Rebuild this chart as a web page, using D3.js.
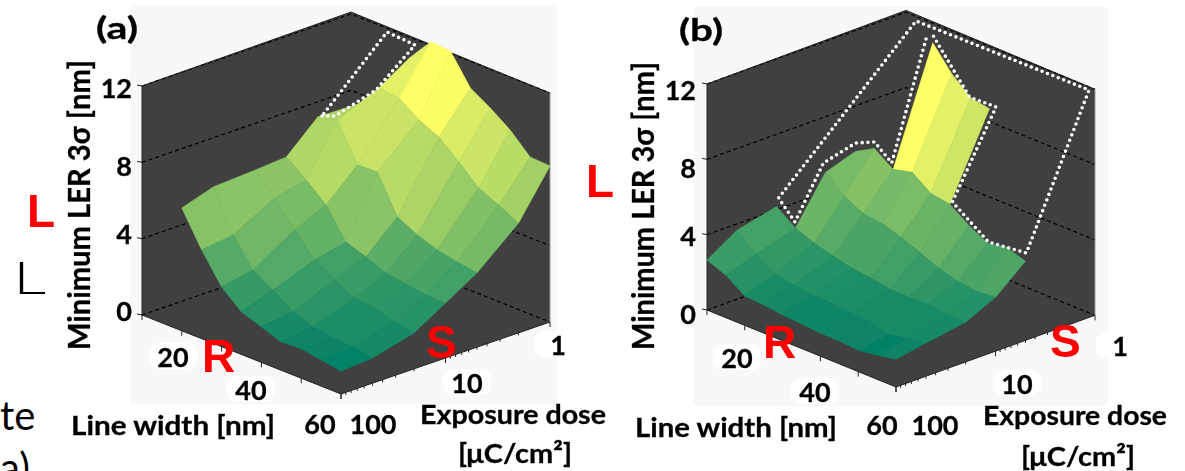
<!DOCTYPE html>
<html>
<head>
<meta charset="utf-8">
<script src="https://cdn.jsdelivr.net/npm/d3@7"></script>
<style>
  html, body { margin: 0; padding: 0; background: #fff; overflow: hidden; }
  text { font-family: Lato, "Open Sans", sans-serif; fill: #000; }
  .bold { font-weight: 700; stroke: #000; stroke-width: 0.3; }
  .red { font-family: "Liberation Sans", Arial, sans-serif; font-weight: 700; fill: #f00; font-size: 46px; }
</style>
</head>
<body>
<div id="chart"></div>
<script>
// grid of the two surfaces
const lineWidths = [10, 15, 20, 25, 30, 35, 40, 45, 50, 55, 60];
const doses = [100, 50, 20, 10, 5, 2, 1];

// min LER per dose row, columns follow lineWidths. null = no resist pattern
const lerA100 = [null, null, 6.44, 4.65, 3.12, 2.23, 1.86, 1.48, 1.54, 1.37, 1.2];
const lerA50 = [null, null, 6.97, 4.87, 3.45, 2.81, 2.08, 1.7, 1.54, 1.48, 1.32];
const lerA20 = [null, null, 7.1, 6.05, 4.79, 3.63, 3.0, 2.47, 2.37, 2.04, 1.88];
const lerA10 = [null, null, 7.22, 6.43, 5.53, 4.0, 3.64, 3.21, 3.05, 2.89, 2.88];
const lerA5 = [null, null, 8.75, 9.0, 7.07, 7.11, 5.17, 4.64, 4.27, 4.05, 3.89];
const lerA2 = [null, null, 8.7, 9.93, 9.81, 9.08, 8.6, 7.71, 6.76, 6.28, 5.75];
const lerA1 = [null, null, 9.37, 10.99, 12.19, 12.13, 10.6, 9.97, 9.23, 8.23, 8.18];

const lerB100 = [2.65, 2.26, 1.56, 1.49, 1.37, 1.3, 1.22, 1.21, 1.14, 1.28, 1.48];
const lerB50 = [3.66, 2.8, 2.15, 1.97, 1.85, 1.84, 1.71, 1.65, 1.37, 1.61, 1.76];
const lerB20 = [4.17, 3.42, 3.03, 2.75, 2.52, 2.4, 2.22, 2.21, 2.25, 2.12, 2.11];
const lerB10 = [null, 5.81, 4.95, 4.45, 4.33, 4.0, 3.6, 3.17, 2.89, 2.77, 2.86];
const lerB5 = [null, 6.35, 6.92, 6.22, 6.47, 5.76, 5.59, 4.88, 4.34, 4.53, 4.2];
const lerB2 = [null, null, null, 12.18, 10.95, 10.08, 9.91, null, null, null, null];
const lerB1 = [null, null, null, null, null, null, null, null, null, null, null];

const zTicks = [0, 4, 8, 12];
const widthLabels = [20, 40, 60];
const doseLabels = [1, 10, 100];

const width = 1185, height = 471;
const svg = d3.select('#chart').append('svg')
    .attr('width', width)
    .attr('height', height)
    .attr('viewBox', `0 0 ${width} ${height}`);

svg.append('defs').append('filter').attr('id', 'soft')
    .attr('x', 0).attr('y', 0).attr('width', 1).attr('height', 1)
    .attr('filterUnits', 'userSpaceOnUse')
    .attr('width', width).attr('height', height)
    .append('feGaussianBlur').attr('stdDeviation', 0.4);

const fw = d3.scaleLinear().domain([10, 60]).range([0, 1]);
const fd = d3.scaleLog().domain([100, 1]).range([0, 1]);
// MATLAB summer colormap, one colour range for both panels
const tone = d3.scaleLinear().domain([1.2, 12.2]).range([0, 1]).clamp(true);
const summer = t => d3.rgb(255 * t, 127.5 + 127.5 * t, 102);

const panelA = {
    name: '(a)', nameX: 96, nameY: 39, nameW: 42,
    rows: [lerA100, lerA50, lerA20, lerA10, lerA5, lerA2, lerA1],
    L: [142, 315], u: [199, 79], v: [209, -72], zH: 229,
    back: { x: 130, y: 5, w: 427, h: 399 },
    title: { x: 90, y: 350, len: 290 },
    zLabelX: 132, zLabelY: [310, 233, 165, 87],
    widthPos: [[173, 356], [251, 389], [320, 423]],
    dosePos: [[558, 344], [467, 382], [373, 423]],
    widthTitle: { x: 71, y: 435, len: 204 },
    doseTitle: { x: 420, y: 424, len: 186 },
    unit: { x: 458, y: 463, len: 114 },
    red: [['L', 27, 227], ['R', 202, 372], ['S', 426, 358]],
    dots: [[[322, 116], [335, 116], [376, 90], [415, 45], [387, 32], [322, 116]]]
};
const panelB = {
    name: '(b)', nameX: 679, nameY: 41, nameW: 44,
    rows: [lerB100, lerB50, lerB20, lerB10, lerB5, lerB2, lerB1],
    L: [707, 310], u: [189, 77], v: [199, -71.7], zH: 226,
    back: { x: 693, y: 7, w: 415, h: 399 },
    title: { x: 654, y: 350, len: 288 },
    zLabelX: 696, zLabelY: [313, 235, 167, 89],
    widthPos: [[737, 357], [815, 391], [882, 424]],
    dosePos: [[1120, 345], [1017, 383], [935, 424]],
    widthTitle: { x: 635, y: 437, len: 202 },
    doseTitle: { x: 983, y: 425, len: 184 },
    unit: { x: 1021, y: 466, len: 114 },
    red: [['L', 586, 197], ['R', 763, 358], ['S', 1050, 357]],
    dots: [
        [[926, 39], [891.7, 163], [874.6, 142], [855.6, 143], [823.4, 163], [795, 222], [778.6, 198], [916, 21], [1089, 90], [1026.4, 253], [988.5, 242], [952.4, 202], [996, 107], [969.5, 97], [931.6, 33]]
    ]
};

const polyline = d3.line();

function drawPanel(p) {
    const g = svg.append('g').attr('filter', 'url(#soft)');
    const zs = d3.scaleLinear().domain([0, 12]).range([0, p.zH]);
    const proj = (w, d, z) => [
        p.L[0] + fw(w) * p.u[0] + fd(d) * p.v[0],
        p.L[1] + fw(w) * p.u[1] + fd(d) * p.v[1] - zs(z)
    ];

    g.append('rect')
        .attr('x', p.back.x).attr('y', p.back.y)
        .attr('width', p.back.w).attr('height', p.back.h)
        .attr('fill', '#f8f8f8');

    // white patches left behind the tick labels
    const blobs = p.widthPos.concat(p.dosePos);
    g.selectAll('rect.blob').data(blobs).enter().append('rect')
        .attr('class', 'blob')
        .attr('x', d => d[0] - 24).attr('y', d => d[1] - 13)
        .attr('width', 48).attr('height', 26).attr('rx', 9)
        .attr('fill', '#fff');

    // box: floor and the two back walls are the same dark grey
    g.append('path')
        .attr('d', polyline([
            proj(10, 100, 0), proj(10, 100, 12), proj(10, 1, 12.1),
            proj(60, 1, 12), proj(60, 1, 0), proj(60, 100, 0)
        ]) + 'Z')
        .attr('fill', '#404040');

    g.selectAll('path.grid').data(zTicks).enter().append('path')
        .attr('class', 'grid')
        .attr('d', z => polyline([proj(10, 100, z), proj(10, 1, z), proj(60, 1, z)]))
        .attr('fill', 'none')
        .attr('stroke', '#000')
        .attr('stroke-width', 1.2)
        .attr('stroke-dasharray', '4 3');

    // axis edges
    g.append('path')
        .attr('d', polyline([proj(10, 100, 12), proj(10, 1, 12.1), proj(60, 1, 12)]))
        .attr('fill', 'none').attr('stroke', '#222').attr('stroke-width', 1);
    g.append('path')
        .attr('d', polyline([proj(10, 100, 12), proj(10, 100, 0), proj(60, 100, 0), proj(60, 1, 0)]))
        .attr('fill', 'none').attr('stroke', '#222').attr('stroke-width', 1);
    g.append('line')
        .attr('x1', proj(60, 1, 12)[0]).attr('y1', proj(60, 1, 12)[1])
        .attr('x2', proj(60, 1, 0)[0]).attr('y2', proj(60, 1, 0)[1])
        .attr('stroke', '#9a9a9a').attr('stroke-width', 1);

    zTicks.forEach(z => {
        const a = proj(10, 100, z);
        g.append('line')
            .attr('x1', a[0]).attr('y1', a[1])
            .attr('x2', a[0] - 5).attr('y2', a[1] - 1)
            .attr('stroke', '#222');
    });
    fw.ticks(5).forEach(w => {
        const a = proj(w, 100, 0);
        g.append('line')
            .attr('x1', a[0]).attr('y1', a[1])
            .attr('x2', a[0]).attr('y2', a[1] + 5)
            .attr('stroke', '#222');
    });
    fd.ticks().forEach(d => {
        const a = proj(60, d, 0);
        const major = doseLabels.includes(d);
        g.append('line')
            .attr('x1', a[0]).attr('y1', a[1])
            .attr('x2', a[0]).attr('y2', a[1] + (major ? 5 : 2.5))
            .attr('stroke', '#222');
    });

    // surface, far corner first so nearer facets paint over
    for (let i = doses.length - 2; i >= 0; i--) {
        for (let j = 0; j < lineWidths.length - 1; j++) {
            const c = [p.rows[i][j], p.rows[i][j + 1], p.rows[i + 1][j + 1], p.rows[i + 1][j]];
            if (c.some(v => v === null)) continue;
            // flat shading: the facet takes the colour of its far corner
            const col = summer(tone(c[3]));
            g.append('path')
                .attr('d', polyline([
                    proj(lineWidths[j], doses[i], c[0]),
                    proj(lineWidths[j + 1], doses[i], c[1]),
                    proj(lineWidths[j + 1], doses[i + 1], c[2]),
                    proj(lineWidths[j], doses[i + 1], c[3])
                ]) + 'Z')
                .attr('fill', col)
                .attr('stroke', col)
                .attr('stroke-width', 0.6)
                .attr('stroke-linejoin', 'round');
        }
    }

    // dotted outlines added on the figure
    p.dots.forEach(d => {
        g.append('path')
            .attr('d', polyline(d))
            .attr('fill', 'none')
            .attr('stroke', '#fff')
            .attr('stroke-width', 3.6)
            .attr('stroke-linecap', 'round')
            .attr('stroke-dasharray', '0 5.8');
    });

    g.append('text').attr('class', 'bold')
        .attr('x', p.nameX).attr('y', p.nameY)
        .attr('textLength', p.nameW).attr('lengthAdjust', 'spacingAndGlyphs')
        .style('font-size', '30px')
        .text(p.name);

    g.append('text').attr('class', 'bold')
        .attr('transform', `translate(${p.title.x},${p.title.y}) rotate(-90)`)
        .attr('textLength', p.title.len).attr('lengthAdjust', 'spacingAndGlyphs')
        .style('font-size', '30px')
        .text('Minimum LER 3σ [nm]');

    zTicks.forEach((z, i) => {
        g.append('text').attr('class', 'bold')
            .attr('x', p.zLabelX).attr('y', p.zLabelY[i])
            .attr('text-anchor', 'end').attr('dominant-baseline', 'central')
            .style('font-size', '27px')
            .text(z);
    });
    widthLabels.forEach((t, i) => {
        g.append('text').attr('class', 'bold')
            .attr('x', p.widthPos[i][0]).attr('y', p.widthPos[i][1])
            .attr('text-anchor', 'middle').attr('dominant-baseline', 'central')
            .style('font-size', '27px')
            .text(t);
    });
    doseLabels.forEach((t, i) => {
        g.append('text').attr('class', 'bold')
            .attr('x', p.dosePos[i][0]).attr('y', p.dosePos[i][1])
            .attr('text-anchor', 'middle').attr('dominant-baseline', 'central')
            .style('font-size', '27px')
            .text(t);
    });

    [[p.widthTitle, 'Line width [nm]'], [p.doseTitle, 'Exposure dose'], [p.unit, '[μC/cm²]']].forEach(d => {
        g.append('text').attr('class', 'bold')
            .attr('x', d[0].x).attr('y', d[0].y)
            .attr('textLength', d[0].len).attr('lengthAdjust', 'spacingAndGlyphs')
            .style('font-size', '27px')
            .text(d[1]);
    });

    p.red.forEach(d => {
        g.append('text').attr('class', 'red')
            .attr('x', d[1]).attr('y', d[2])
            .style('fill', '#f00')
            .text(d[0]);
    });
}

// leftovers of the page text around the figure
svg.append('text').attr('transform', 'translate(13,294) scale(1.45,1)').style('font-size', '45px').style('font-weight', 300).text('L');
svg.append('text').attr('x', 0).attr('y', 430).style('font-size', '40px').text('te');
svg.append('text').attr('x', 0).attr('y', 482).style('font-size', '40px').text('a)');

drawPanel(panelA);
drawPanel(panelB);
</script>
</body>
</html>
